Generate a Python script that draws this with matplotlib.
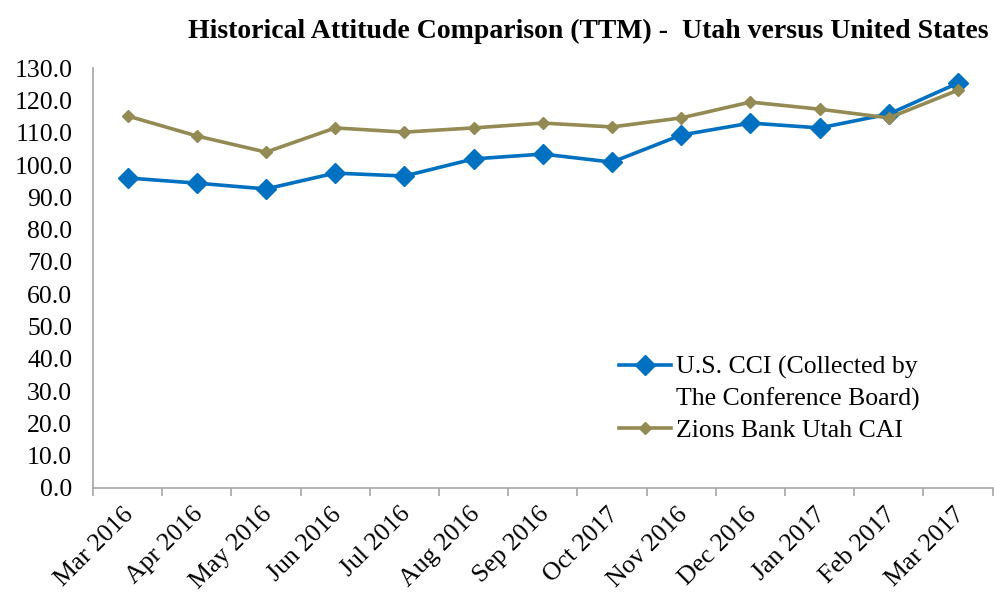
import matplotlib
matplotlib.use("Agg")
import matplotlib.pyplot as plt
import matplotlib.transforms as mtrans
from matplotlib.lines import Line2D
from matplotlib.ticker import FixedLocator
import numpy as np

plt.rcParams["font.family"] = ["Liberation Serif", "DejaVu Serif"]

months = ["Mar 2016", "Apr 2016", "May 2016", "Jun 2016", "Jul 2016",
          "Aug 2016", "Sep 2016", "Oct 2017", "Nov 2016", "Dec 2016",
          "Jan 2017", "Feb 2017", "Mar 2017"]
us_cci = [96.0, 94.4, 92.6, 97.5, 96.6, 101.9, 103.4, 100.9, 109.3,
          113.0, 111.5, 115.8, 125.4]
utah_cai = [115.2, 109.0, 104.0, 111.5, 110.2, 111.5, 113.0, 111.8,
            114.6, 119.5, 117.3, 114.6, 123.2]

blue = "#0070C0"
gold = "#948A54"
grey = "#A6A6A6"

fig = plt.figure(figsize=(9.94, 5.98), dpi=100)
ax = fig.add_axes([0.0936, 0.184, 0.905, 0.702])

x = np.arange(len(months))
l1, = ax.plot(x, us_cci, color=blue, lw=2.6, marker="D", ms=10)
l2, = ax.plot(x, utah_cai, color=gold, lw=2.6, marker="D", ms=6)

ax.set_xlim(-0.5, len(months) - 0.5)
ax.set_ylim(0, 130)
ax.set_yticks(np.arange(0, 131, 10))
ax.set_yticklabels([f"{v:.1f}" for v in np.arange(0, 131, 10)], fontsize=18.5)
ax.tick_params(axis="y", length=0, pad=15)

ax.set_xticks(x)
ax.set_xticklabels(months, fontsize=18.5, rotation=45, ha="right",
                   rotation_mode="anchor")
ax.tick_params(axis="x", which="major", length=0, pad=11)
shift = mtrans.ScaledTranslation(-5 / 100, 0, fig.dpi_scale_trans)
for lbl in ax.get_xticklabels():
    lbl.set_transform(lbl.get_transform() + shift)
ax.xaxis.set_minor_locator(FixedLocator(np.arange(-0.5, len(months), 1)))
ax.tick_params(axis="x", which="minor", length=6, width=1.2, color=grey,
               direction="out")

for s in ["top", "right"]:
    ax.spines[s].set_visible(False)
for s in ["left", "bottom"]:
    ax.spines[s].set_color(grey)
    ax.spines[s].set_linewidth(1.2)

# legend: handle sits on the first line of the wrapped label, like the original
blank = Line2D([], [], alpha=0)
ax.legend([l1, blank, l2],
          ["U.S. CCI (Collected by", "The Conference Board)", "Zions Bank Utah CAI"],
          loc="lower right", bbox_to_anchor=(0.93, 0.085), frameon=False,
          fontsize=18.5, handlelength=2.0, handletextpad=0.2,
          labelspacing=0.32, borderaxespad=0)

fig.text(0.994, 0.948, "Historical Attitude Comparison (TTM) -  Utah versus United States",
         ha="right", va="center", fontsize=20, fontweight="bold")

fig.savefig("out.png", dpi=100)
